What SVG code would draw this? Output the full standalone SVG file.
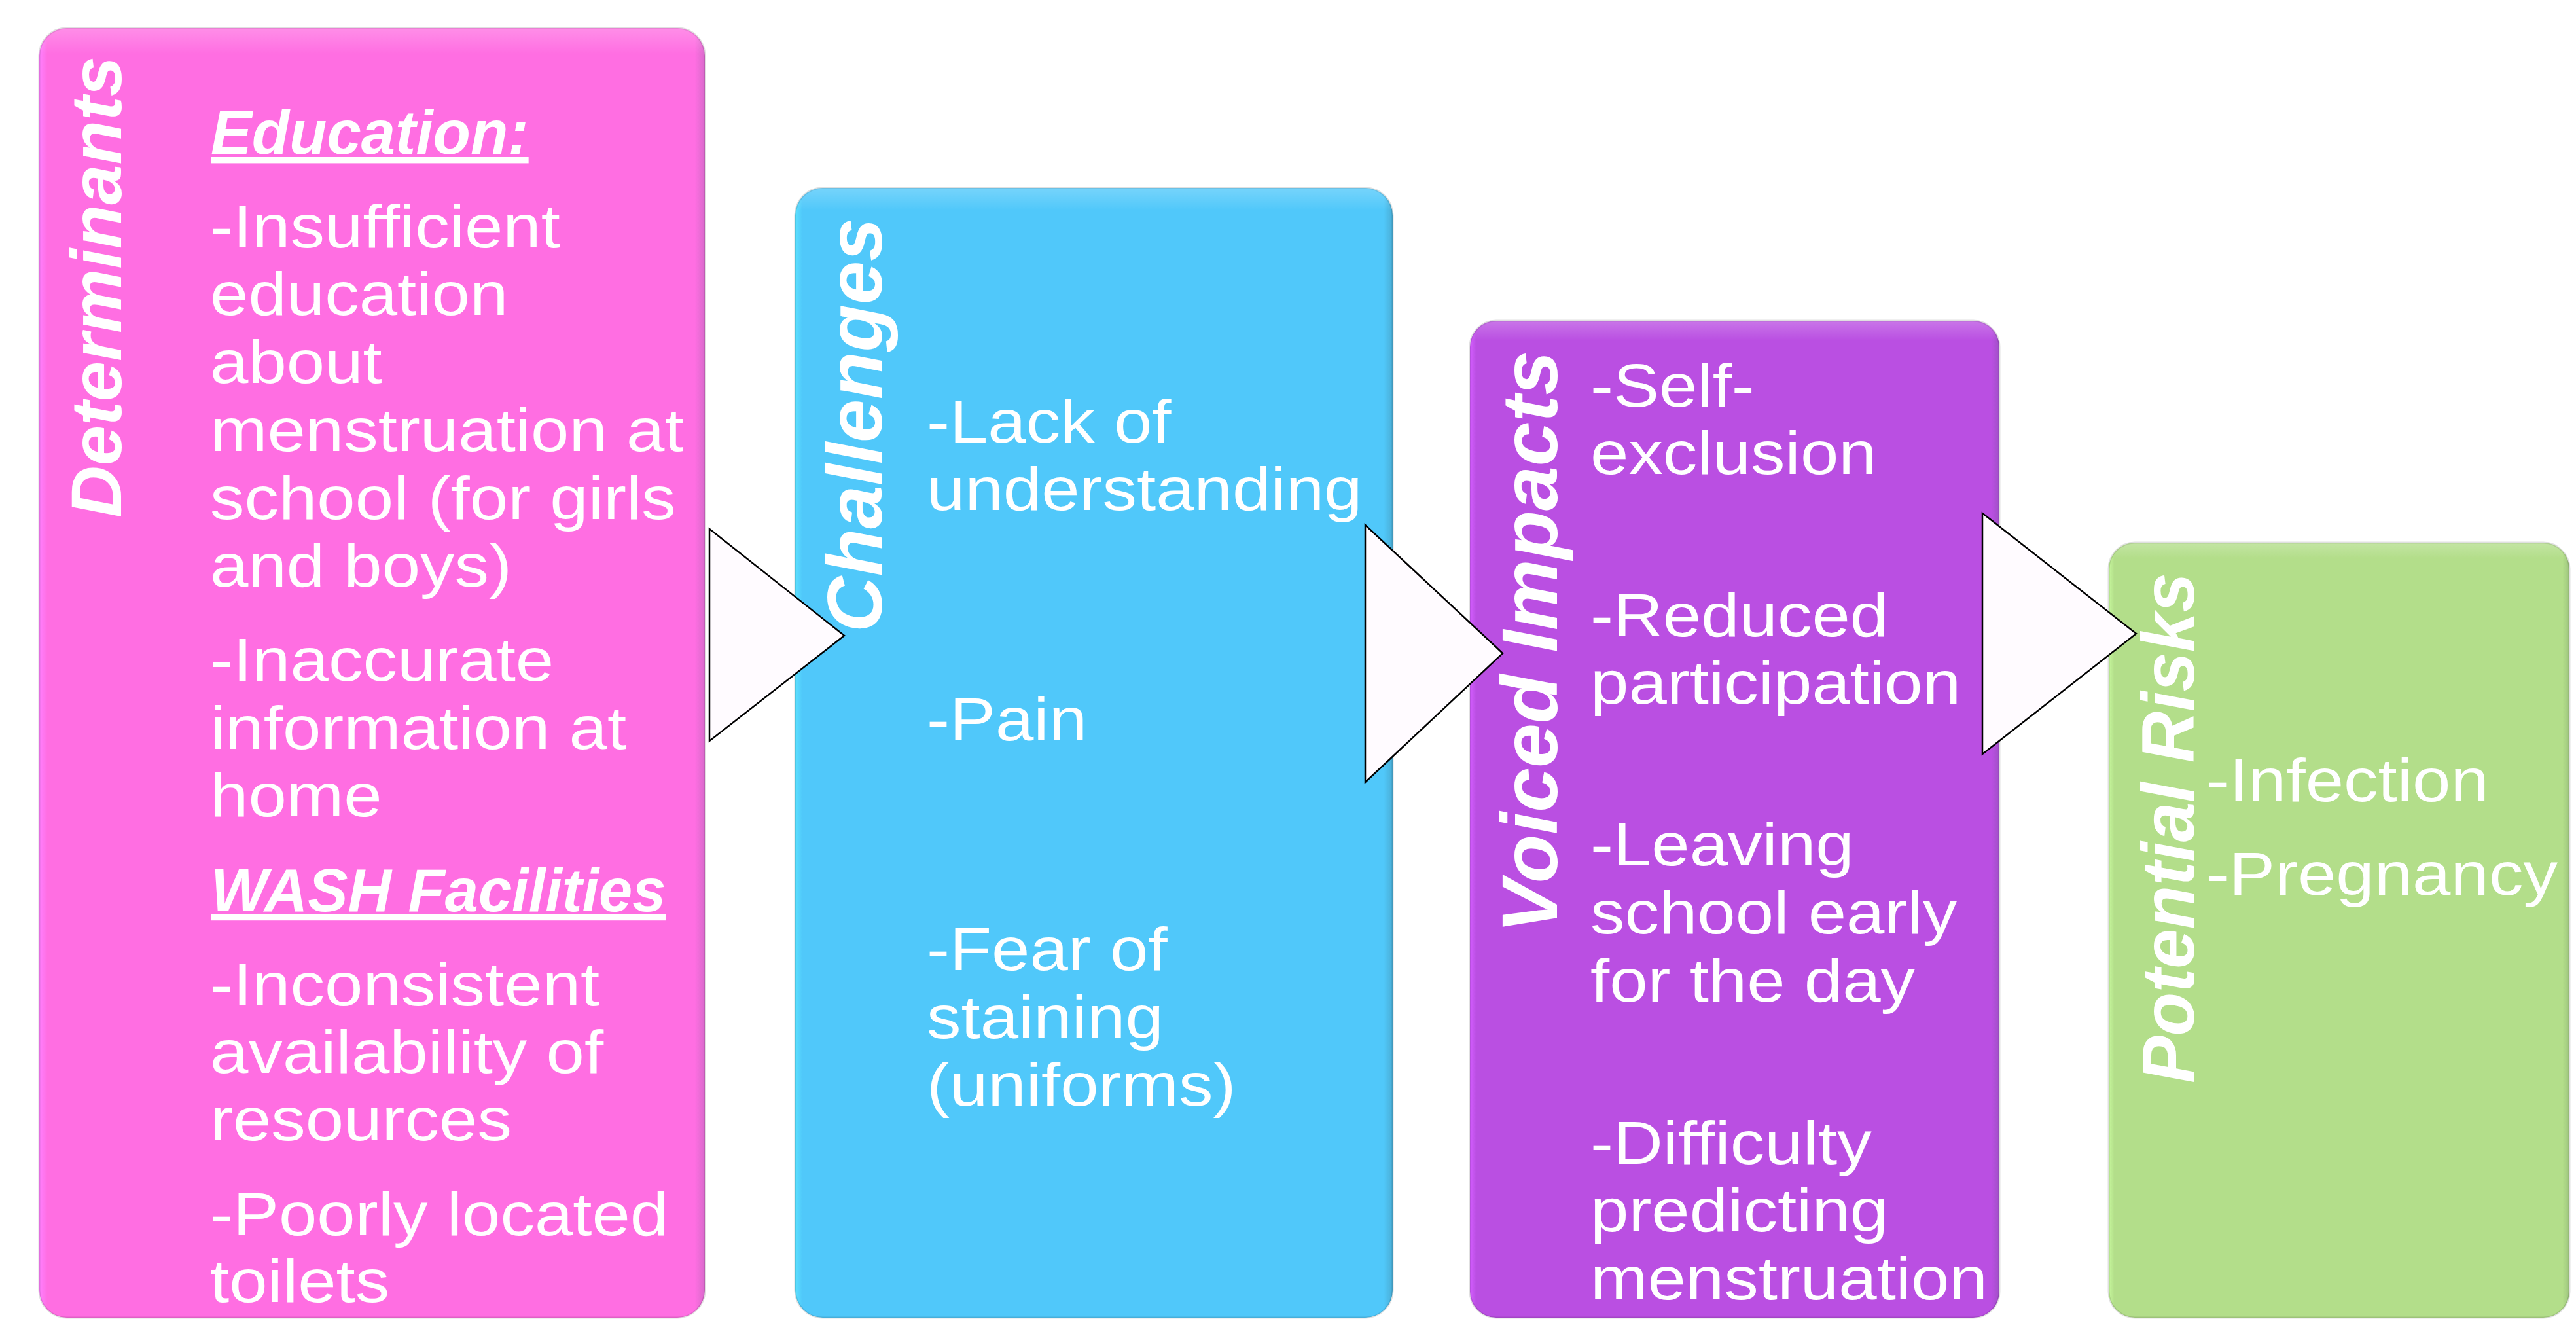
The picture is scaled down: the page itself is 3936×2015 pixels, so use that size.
<svg xmlns="http://www.w3.org/2000/svg" width="3936" height="2015" viewBox="0 0 3936 2015">
  <defs>
    <linearGradient id="gPink" x1="0" y1="0" x2="1" y2="0">
      <stop offset="0" stop-color="#FF80FF"/>
      <stop offset="0.012" stop-color="#FF6EE2"/>
      <stop offset="0.985" stop-color="#FF6EE2"/>
      <stop offset="1" stop-color="#D86ACB"/>
    </linearGradient>
    <linearGradient id="gBlue" x1="0" y1="0" x2="1" y2="0">
      <stop offset="0" stop-color="#5CE2FF"/>
      <stop offset="0.012" stop-color="#50C8FA"/>
      <stop offset="0.985" stop-color="#50C8FA"/>
      <stop offset="1" stop-color="#4AAED6"/>
    </linearGradient>
    <linearGradient id="gPurple" x1="0" y1="0" x2="1" y2="0">
      <stop offset="0" stop-color="#D45DFF"/>
      <stop offset="0.012" stop-color="#BA4FE2"/>
      <stop offset="0.985" stop-color="#BA4FE2"/>
      <stop offset="1" stop-color="#A150C8"/>
    </linearGradient>
    <linearGradient id="gGreen" x1="0" y1="0" x2="1" y2="0">
      <stop offset="0" stop-color="#C6F79C"/>
      <stop offset="0.012" stop-color="#B3DE8A"/>
      <stop offset="0.985" stop-color="#B3DE8A"/>
      <stop offset="1" stop-color="#9EC57E"/>
    </linearGradient>
    <linearGradient id="gTop" x1="0" y1="0" x2="0" y2="1">
      <stop offset="0" stop-color="#FFFFFF" stop-opacity="0.22"/>
      <stop offset="0.02" stop-color="#FFFFFF" stop-opacity="0"/>
      <stop offset="1" stop-color="#FFFFFF" stop-opacity="0"/>
    </linearGradient>
  </defs>
  <style>
    .box { stroke: #000000; stroke-opacity: 0.12; stroke-width: 3; }
    .hl { fill: url(#gTop); stroke: none; }
    .body { font-family: "Liberation Sans", Arial, sans-serif; font-size: 92px; fill: #FFFFFF; }
    .head { font-family: "Liberation Sans", Arial, sans-serif; font-weight: bold; font-style: italic; fill: #FFFFFF; text-decoration: underline; }
    .title { font-family: "Liberation Sans", Arial, sans-serif; font-weight: bold; font-style: italic; fill: #FFFFFF; }
    .arrow { fill: #FFFBFF; stroke: #000000; stroke-width: 2.5; stroke-linejoin: miter; }
  </style>
  <rect width="3936" height="2015" fill="#FFFFFF"/>

  <g id="determinants">
    <rect class="box" x="60" y="43" width="1017" height="1970" rx="42" ry="42" fill="url(#gPink)"/>
    <rect class="hl" x="60" y="43" width="1017" height="1970" rx="42" ry="42"/>
    <text class="title" font-size="110" transform="translate(185,791) rotate(-90)" textLength="705" lengthAdjust="spacingAndGlyphs">Determinants</text>
    <text class="head" x="322" y="235" font-size="94">Education:</text>
    <text class="head" x="322" y="1392" font-size="92">WASH Facilities</text>
    <g transform="matrix(1.1413,0,0,1,-45.36,0)">
      <text class="body" x="321" y="378">-Insufficient</text>
      <text class="body" x="321" y="481">education</text>
      <text class="body" x="321" y="585">about</text>
      <text class="body" x="321" y="689">menstruation at</text>
      <text class="body" x="321" y="793">school (for girls</text>
      <text class="body" x="321" y="896">and boys)</text>
      <text class="body" x="321" y="1040">-Inaccurate</text>
      <text class="body" x="321" y="1144">information at</text>
      <text class="body" x="321" y="1247">home</text>
      <text class="body" x="321" y="1536">-Inconsistent</text>
      <text class="body" x="321" y="1639">availability of</text>
      <text class="body" x="321" y="1742">resources</text>
      <text class="body" x="321" y="1887">-Poorly located</text>
      <text class="body" x="321" y="1989">toilets</text>
    </g>
  </g>

  <g id="challenges">
    <rect class="box" x="1215" y="287" width="913" height="1726" rx="42" ry="42" fill="url(#gBlue)"/>
    <rect class="hl" x="1215" y="287" width="913" height="1726" rx="42" ry="42"/>
    <text class="title" font-size="118" transform="translate(1347,966) rotate(-90)" textLength="633" lengthAdjust="spacingAndGlyphs">Challenges</text>
    <g transform="matrix(1.1413,0,0,1,-200.08,0)">
      <text class="body" x="1416" y="676">-Lack of</text>
      <text class="body" x="1416" y="779">understanding</text>
      <text class="body" x="1416" y="1131">-Pain</text>
      <text class="body" x="1416" y="1482">-Fear of</text>
      <text class="body" x="1416" y="1586">staining</text>
      <text class="body" x="1416" y="1689">(uniforms)</text>
    </g>
  </g>

  <g id="voiced-impacts">
    <rect class="box" x="2246" y="490" width="809" height="1523" rx="40" ry="40" fill="url(#gPurple)"/>
    <rect class="hl" x="2246" y="490" width="809" height="1523" rx="40" ry="40"/>
    <text class="title" font-size="120" transform="translate(2379,1426) rotate(-90)" textLength="890" lengthAdjust="spacingAndGlyphs">Voiced Impacts</text>
    <g transform="matrix(1.1413,0,0,1,-343.36,0)">
      <text class="body" x="2430" y="621">-Self-</text>
      <text class="body" x="2430" y="724">exclusion</text>
      <text class="body" x="2430" y="972">-Reduced</text>
      <text class="body" x="2430" y="1075">participation</text>
      <text class="body" x="2430" y="1322">-Leaving</text>
      <text class="body" x="2430" y="1426">school early</text>
      <text class="body" x="2430" y="1530">for the day</text>
      <text class="body" x="2430" y="1778">-Difficulty</text>
      <text class="body" x="2430" y="1881">predicting</text>
      <text class="body" x="2430" y="1985">menstruation</text>
    </g>
  </g>

  <g id="potential-risks">
    <rect class="box" x="3222" y="829" width="704" height="1184" rx="40" ry="40" fill="url(#gGreen)"/>
    <rect class="hl" x="3222" y="829" width="704" height="1184" rx="40" ry="40"/>
    <text class="title" font-size="114" transform="translate(3352,1655) rotate(-90)" textLength="780" lengthAdjust="spacingAndGlyphs">Potential Risks</text>
    <g transform="matrix(1.1413,0,0,1,-476.32,0)">
      <text class="body" x="3371" y="1224">-Infection</text>
      <text class="body" x="3371" y="1367">-Pregnancy</text>
    </g>
  </g>

  <g id="connectors">
    <polygon class="arrow" points="1084,808 1290,971 1084,1132"/>
    <polygon class="arrow" points="2086,802 2296,998 2086,1195"/>
    <polygon class="arrow" points="3029,784 3264,968 3029,1152"/>
  </g>
</svg>
